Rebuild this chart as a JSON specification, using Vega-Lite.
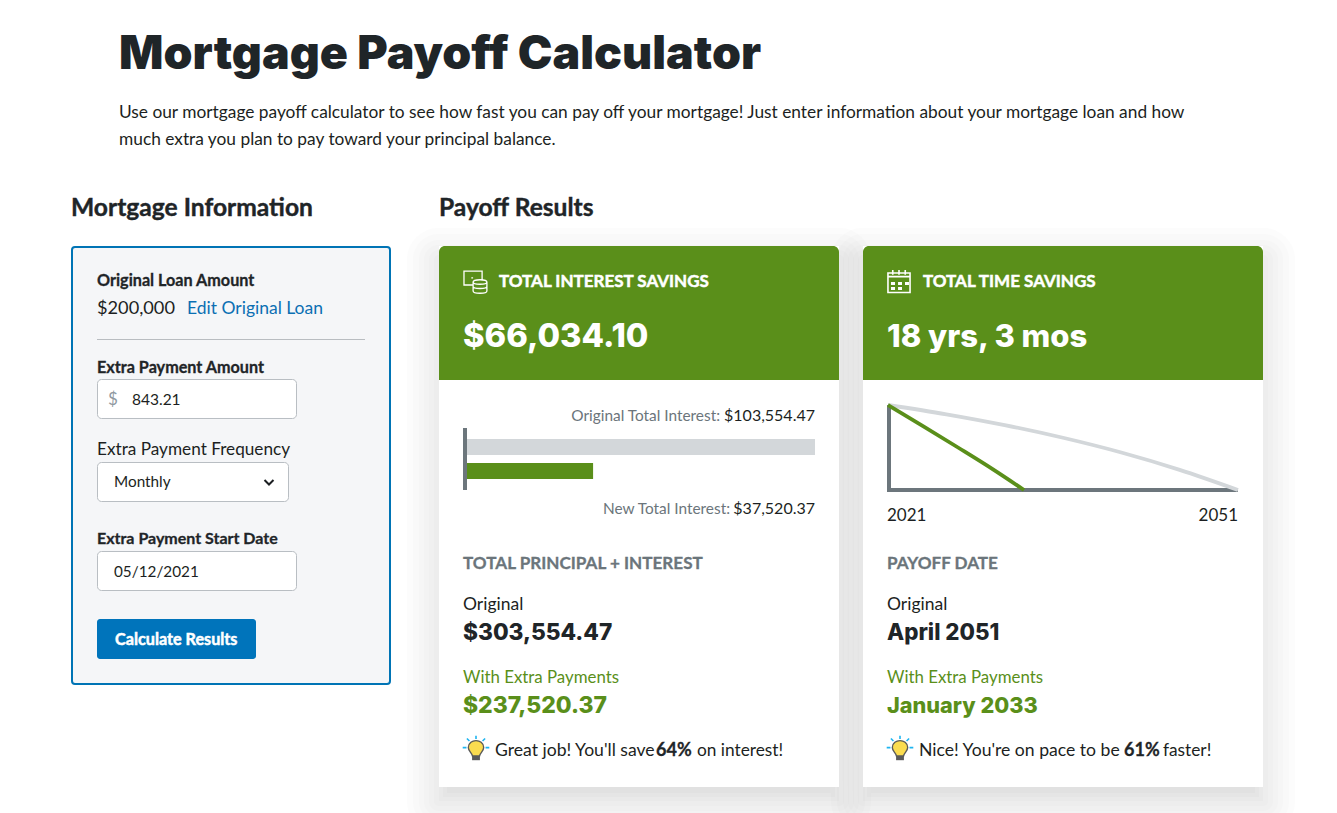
{
"$schema":"https://vega.github.io/schema/vega-lite/v6.json",
"width":1337,"height":813,"padding":0,"autosize":{"type":"none"},"background":"#ffffff",
"config":{"view":{"stroke":null},"text":{"font":"Lato","align":"left","baseline":"alphabetic"}},
"resolve":{"scale":{"x":"independent","y":"independent","color":"independent"}},
"datasets":{
"cards":[{"card":"interest","part":"card"},{"card":"time","part":"card"}],
"payoff":[{"series":"Original","interest":103554.47},{"series":"New","interest":37520.37}],
"balance":[
{"series":"Original","year":2021,"balance":200000},{"series":"Original","year":2026,"balance":178200},{"series":"Original","year":2031,"balance":152700},{"series":"Original","year":2036,"balance":122900},{"series":"Original","year":2041,"balance":88200},{"series":"Original","year":2046,"balance":47400},{"series":"Original","year":2051,"balance":0},
{"series":"With Extra Payments","year":2021,"balance":200000},{"series":"With Extra Payments","year":2024,"balance":150500},{"series":"With Extra Payments","year":2027,"balance":100000},{"series":"With Extra Payments","year":2030,"balance":48500},{"series":"With Extra Payments","year":2032.66,"balance":0}]
},
"layer":[
{"data":{"name":"cards"},"mark":{"type":"rect","fill":"#000","stroke":"#000","strokeWidth":64,"strokeJoin":"round","opacity":0.006},"encoding":{"x":{"field":"card","type":"nominal","scale":{"type":"band","domain":["interest","time"],"range":[439,1263],"paddingInner":0.0566,"paddingOuter":0},"axis":null},"y":{"field":"part","type":"nominal","scale":{"type":"band","domain":["card"],"range":[260,801],"padding":0},"axis":null}}},
{"data":{"name":"cards"},"mark":{"type":"rect","fill":"#000","stroke":"#000","strokeWidth":52,"strokeJoin":"round","opacity":0.006},"encoding":{"x":{"field":"card","type":"nominal","scale":{"type":"band","domain":["interest","time"],"range":[439,1263],"paddingInner":0.0566,"paddingOuter":0},"axis":null},"y":{"field":"part","type":"nominal","scale":{"type":"band","domain":["card"],"range":[260,801],"padding":0},"axis":null}}},
{"data":{"name":"cards"},"mark":{"type":"rect","fill":"#000","stroke":"#000","strokeWidth":40,"strokeJoin":"round","opacity":0.006},"encoding":{"x":{"field":"card","type":"nominal","scale":{"type":"band","domain":["interest","time"],"range":[439,1263],"paddingInner":0.0566,"paddingOuter":0},"axis":null},"y":{"field":"part","type":"nominal","scale":{"type":"band","domain":["card"],"range":[260,801],"padding":0},"axis":null}}},
{"data":{"name":"cards"},"mark":{"type":"rect","fill":"#000","stroke":"#000","strokeWidth":30,"strokeJoin":"round","opacity":0.008},"encoding":{"x":{"field":"card","type":"nominal","scale":{"type":"band","domain":["interest","time"],"range":[439,1263],"paddingInner":0.0566,"paddingOuter":0},"axis":null},"y":{"field":"part","type":"nominal","scale":{"type":"band","domain":["card"],"range":[260,801],"padding":0},"axis":null}}},
{"data":{"name":"cards"},"mark":{"type":"rect","fill":"#000","stroke":"#000","strokeWidth":20,"strokeJoin":"round","opacity":0.008},"encoding":{"x":{"field":"card","type":"nominal","scale":{"type":"band","domain":["interest","time"],"range":[439,1263],"paddingInner":0.0566,"paddingOuter":0},"axis":null},"y":{"field":"part","type":"nominal","scale":{"type":"band","domain":["card"],"range":[260,801],"padding":0},"axis":null}}},
{"data":{"name":"cards"},"mark":{"type":"rect","fill":"#000","stroke":"#000","strokeWidth":10,"strokeJoin":"round","opacity":0.008},"encoding":{"x":{"field":"card","type":"nominal","scale":{"type":"band","domain":["interest","time"],"range":[439,1263],"paddingInner":0.0566,"paddingOuter":0},"axis":null},"y":{"field":"part","type":"nominal","scale":{"type":"band","domain":["card"],"range":[260,801],"padding":0},"axis":null}}},
{"data":{"name":"cards"},"mark":{"type":"rect","fill":"#000","opacity":0.017},"encoding":{"x":{"field":"card","type":"nominal","scale":{"type":"band","domain":["interest","time"],"range":[439,1263],"paddingInner":0.0566,"paddingOuter":0},"axis":null},"y":{"field":"part","type":"nominal","scale":{"type":"band","domain":["card"],"range":[260,801],"padding":0},"axis":null}}},
{"data":{"name":"cards"},"mark":{"type":"rect","fill":"#000","opacity":0.017},"encoding":{"x":{"field":"card","type":"nominal","scale":{"type":"band","domain":["interest","time"],"range":[443,1259],"paddingInner":0.07547,"paddingOuter":0},"axis":null},"y":{"field":"part","type":"nominal","scale":{"type":"band","domain":["card"],"range":[264,797],"padding":0},"axis":null}}},
{"data":{"name":"cards"},"mark":{"type":"rect","fill":"#000","opacity":0.017},"encoding":{"x":{"field":"card","type":"nominal","scale":{"type":"band","domain":["interest","time"],"range":[447,1255],"paddingInner":0.09434,"paddingOuter":0},"axis":null},"y":{"field":"part","type":"nominal","scale":{"type":"band","domain":["card"],"range":[268,793],"padding":0},"axis":null}}},
{"data":{"name":"cards"},"mark":{"type":"rect","fill":"#ffffff"},"encoding":{"x":{"field":"card","type":"nominal","scale":{"type":"band","domain":["interest","time"],"range":[439,1263],"paddingInner":0.0566,"paddingOuter":0},"axis":null},"y":{"field":"part","type":"nominal","scale":{"type":"band","domain":["card"],"range":[246,787],"padding":0},"axis":null}}},
{"data":{"name":"cards"},"mark":{"type":"rect","fill":"#5a8f1a","cornerRadiusTopLeft":6,"cornerRadiusTopRight":6},"encoding":{"x":{"field":"card","type":"nominal","scale":{"type":"band","domain":["interest","time"],"range":[439,1263],"paddingInner":0.0566,"paddingOuter":0},"axis":null},"y":{"field":"part","type":"nominal","scale":{"type":"band","domain":["card"],"range":[246,380],"padding":0},"axis":null}}},

{"data":{"values":[{"panel":"form","part":"panel"}]},"mark":{"type":"rect","fill":"#f5f6f8","stroke":"#0074b5","strokeWidth":2,"cornerRadius":3},"encoding":{"x":{"field":"panel","type":"nominal","scale":{"type":"band","domain":["form"],"range":[72,390],"padding":0},"axis":null},"y":{"field":"part","type":"nominal","scale":{"type":"band","domain":["panel"],"range":[247,684],"padding":0},"axis":null}}},
{"data":{"values":[{"panel":"form","part":"divider"}]},"mark":{"type":"rect","fill":"#b9bdc1"},"encoding":{"x":{"field":"panel","type":"nominal","scale":{"type":"band","domain":["form"],"range":[97,365],"padding":0},"axis":null},"y":{"field":"part","type":"nominal","scale":{"type":"band","domain":["divider"],"range":[339,340],"padding":0},"axis":null}}},
{"data":{"values":[{"panel":"form","part":"amount"},{"panel":"form","part":"date"}]},"mark":{"type":"rect","fill":"#ffffff","stroke":"#b9bec3","strokeWidth":1,"cornerRadius":4},"encoding":{"x":{"field":"panel","type":"nominal","scale":{"type":"band","domain":["form"],"range":[97.5,296.5],"padding":0},"axis":null},"y":{"field":"part","type":"nominal","scale":{"type":"band","domain":["amount","date"],"range":[379.5,590.5],"paddingInner":0.77326,"paddingOuter":0},"axis":null}}},
{"data":{"values":[{"panel":"form","part":"frequency"}]},"mark":{"type":"rect","fill":"#ffffff","stroke":"#b9bec3","strokeWidth":1,"cornerRadius":4},"encoding":{"x":{"field":"panel","type":"nominal","scale":{"type":"band","domain":["form"],"range":[97.5,288.5],"padding":0},"axis":null},"y":{"field":"part","type":"nominal","scale":{"type":"band","domain":["frequency"],"range":[462.5,501.5],"padding":0},"axis":null}}},
{"data":{"values":[{"panel":"form","part":"button"}]},"mark":{"type":"rect","fill":"#0074bb","cornerRadius":3},"encoding":{"x":{"field":"panel","type":"nominal","scale":{"type":"band","domain":["form"],"range":[97,256],"padding":0},"axis":null},"y":{"field":"part","type":"nominal","scale":{"type":"band","domain":["button"],"range":[619,659],"padding":0},"axis":null}}},
{"data":{"values":[{"panel":"form","part":"frequency"}]},"mark":{"type":"point","shape":"M-1,-.45L0,.55L1,-.45","size":81,"filled":false,"stroke":"#1c1f22","strokeWidth":2,"opacity":1},"encoding":{"x":{"field":"panel","type":"nominal","scale":{"type":"point","domain":["form"],"range":[269,269],"padding":0},"axis":null},"y":{"field":"part","type":"nominal","scale":{"type":"point","domain":["frequency"],"range":[482,482],"padding":0},"axis":null}}},

{"data":{"values":[{"column":"page","line":"title","label":"Mortgage Payoff Calculator"}]},"mark":{"type":"text","font":"Inter","fontSize":46.5,"fontWeight":900,"color":"#1f2528"},"encoding":{"text":{"field":"label"},"x":{"field":"column","type":"nominal","scale":{"type":"point","domain":["page"],"range":[119,119],"padding":0},"axis":null},"y":{"field":"line","type":"nominal","scale":{"type":"point","domain":["title"],"range":[69,69],"padding":0},"axis":null}}},
{"data":{"values":[{"column":"page","line":"first","label":"Use our mortgage payoff calculator to see how fast you can pay off your mortgage! Just enter information about your mortgage loan and how"},{"column":"page","line":"second","label":"much extra you plan to pay toward your principal balance."}]},"mark":{"type":"text","fontSize":17.32,"color":"#1c1f22"},"encoding":{"text":{"field":"label"},"x":{"field":"column","type":"nominal","scale":{"type":"point","domain":["page"],"range":[119,119],"padding":0},"axis":null},"y":{"field":"line","type":"nominal","scale":{"type":"point","domain":["first","second"],"range":[118,145],"padding":0},"axis":null}}},
{"data":{"values":[{"column":"form","line":"heading","label":"Mortgage Information"},{"column":"results","line":"heading","label":"Payoff Results"}]},"mark":{"type":"text","fontSize":24.6,"fontWeight":700,"color":"#1f2528","stroke":"#1f2528","strokeWidth":0.4},"encoding":{"text":{"field":"label"},"x":{"field":"column","type":"nominal","scale":{"type":"point","domain":["form","results"],"range":[71,439],"padding":0},"axis":null},"y":{"field":"line","type":"nominal","scale":{"type":"point","domain":["heading"],"range":[216,216],"padding":0},"axis":null}}},

{"data":{"values":[{"column":"form","line":"loan","label":"Original Loan Amount"},{"column":"form","line":"extra","label":"Extra Payment Amount"}]},"mark":{"type":"text","fontSize":16.2,"fontWeight":700,"color":"#1f2528","stroke":"#1f2528","strokeWidth":0.3},"encoding":{"text":{"field":"label"},"x":{"field":"column","type":"nominal","scale":{"type":"point","domain":["form"],"range":[97,97],"padding":0},"axis":null},"y":{"field":"line","type":"nominal","scale":{"type":"point","domain":["loan","extra"],"range":[286,373],"padding":0},"axis":null}}},
{"data":{"values":[{"column":"form","line":"start","label":"Extra Payment Start Date"}]},"mark":{"type":"text","fontSize":16,"fontWeight":700,"color":"#1f2528","stroke":"#1f2528","strokeWidth":0.3},"encoding":{"text":{"field":"label"},"x":{"field":"column","type":"nominal","scale":{"type":"point","domain":["form"],"range":[97,97],"padding":0},"axis":null},"y":{"field":"line","type":"nominal","scale":{"type":"point","domain":["start"],"range":[544,544],"padding":0},"axis":null}}},
{"data":{"values":[{"column":"amount","line":"loan","label":"$200,000"}]},"mark":{"type":"text","fontSize":18.2,"color":"#1c1f22"},"encoding":{"text":{"field":"label"},"x":{"field":"column","type":"nominal","scale":{"type":"point","domain":["amount"],"range":[97,97],"padding":0},"axis":null},"y":{"field":"line","type":"nominal","scale":{"type":"point","domain":["loan"],"range":[314,314],"padding":0},"axis":null}}},
{"data":{"values":[{"column":"link","line":"loan","label":"Edit Original Loan"}]},"mark":{"type":"text","fontSize":17.5,"color":"#0b6fb3"},"encoding":{"text":{"field":"label"},"x":{"field":"column","type":"nominal","scale":{"type":"point","domain":["link"],"range":[187,187],"padding":0},"axis":null},"y":{"field":"line","type":"nominal","scale":{"type":"point","domain":["loan"],"range":[314,314],"padding":0},"axis":null}}},
{"data":{"values":[{"column":"prefix","line":"amount","label":"$"}]},"mark":{"type":"text","fontSize":17,"color":"#8f999f"},"encoding":{"text":{"field":"label"},"x":{"field":"column","type":"nominal","scale":{"type":"point","domain":["prefix"],"range":[108,108],"padding":0},"axis":null},"y":{"field":"line","type":"nominal","scale":{"type":"point","domain":["amount"],"range":[405,405],"padding":0},"axis":null}}},
{"data":{"values":[{"column":"value","line":"amount","label":"843.21"}]},"mark":{"type":"text","fontSize":15.5,"color":"#1c1f22"},"encoding":{"text":{"field":"label"},"x":{"field":"column","type":"nominal","scale":{"type":"point","domain":["value"],"range":[132,132],"padding":0},"axis":null},"y":{"field":"line","type":"nominal","scale":{"type":"point","domain":["amount"],"range":[405,405],"padding":0},"axis":null}}},
{"data":{"values":[{"column":"form","line":"frequency","label":"Extra Payment Frequency"}]},"mark":{"type":"text","fontSize":17.2,"color":"#1c1f22"},"encoding":{"text":{"field":"label"},"x":{"field":"column","type":"nominal","scale":{"type":"point","domain":["form"],"range":[97,97],"padding":0},"axis":null},"y":{"field":"line","type":"nominal","scale":{"type":"point","domain":["frequency"],"range":[455,455],"padding":0},"axis":null}}},
{"data":{"values":[{"column":"value","line":"monthly","label":"Monthly"},{"column":"value","line":"date","label":"05/12/2021"}]},"mark":{"type":"text","fontSize":15.3,"color":"#1c1f22"},"encoding":{"text":{"field":"label"},"x":{"field":"column","type":"nominal","scale":{"type":"point","domain":["value"],"range":[114,114],"padding":0},"axis":null},"y":{"field":"line","type":"nominal","scale":{"type":"point","domain":["monthly","date"],"range":[487,577],"padding":0},"axis":null}}},
{"data":{"values":[{"column":"button","line":"button","label":"Calculate Results"}]},"mark":{"type":"text","fontSize":16.2,"fontWeight":700,"color":"#ffffff","stroke":"#ffffff","strokeWidth":0.5},"encoding":{"text":{"field":"label"},"x":{"field":"column","type":"nominal","scale":{"type":"point","domain":["button"],"range":[115,115],"padding":0},"axis":null},"y":{"field":"line","type":"nominal","scale":{"type":"point","domain":["button"],"range":[645,645],"padding":0},"axis":null}}},

{"data":{"values":[{"card":"interest","line":"header"}]},"mark":{"type":"point","shape":"M-.2,.25H-.96V-.9H.55V-.1M-.35,-.35L-.2,-.35M-.2,0C-.2,-.25 .95,-.25 .95,0C.95,.25 -.2,.25 -.2,0ZM-.2,0V.75C-.2,1 .95,1 .95,.75V0M-.2,.37C-.2,.6 .95,.6 .95,.37","size":576,"filled":false,"stroke":"#ffffff","strokeWidth":1.3,"opacity":1},"encoding":{"x":{"field":"card","type":"nominal","scale":{"type":"point","domain":["interest"],"range":[475.5,475.5],"padding":0},"axis":null},"y":{"field":"line","type":"nominal","scale":{"type":"point","domain":["header"],"range":[282,282],"padding":0},"axis":null}}},
{"data":{"values":[{"card":"time","line":"header"}]},"mark":{"type":"point","shape":"M-.92,-.75H.92V.87H-.92ZM-.92,-.45H.92M-.52,-1V-.6M0,-1V-.6M.52,-1V-.6","size":576,"filled":false,"stroke":"#ffffff","strokeWidth":1.6,"opacity":1},"encoding":{"x":{"field":"card","type":"nominal","scale":{"type":"point","domain":["time"],"range":[899,899],"padding":0},"axis":null},"y":{"field":"line","type":"nominal","scale":{"type":"point","domain":["header"],"range":[282,282],"padding":0},"axis":null}}},
{"data":{"values":[{"card":"time","line":"header"}]},"mark":{"type":"point","shape":"M-.67,0H-.33V.25H-.67ZM-.08,0H.25V.25H-.08ZM.5,0H.83V.25H.5ZM-.67,.42H-.33V.67H-.67ZM-.08,.42H.25V.67H-.08Z","size":576,"filled":true,"fill":"#ffffff","opacity":1},"encoding":{"x":{"field":"card","type":"nominal","scale":{"type":"point","domain":["time"],"range":[899,899],"padding":0},"axis":null},"y":{"field":"line","type":"nominal","scale":{"type":"point","domain":["header"],"range":[282,282],"padding":0},"axis":null}}},
{"data":{"values":[{"card":"interest","line":"header","label":"TOTAL INTEREST SAVINGS"},{"card":"time","line":"header","label":"TOTAL TIME SAVINGS"}]},"mark":{"type":"text","fontSize":17,"fontWeight":700,"color":"#ffffff","stroke":"#ffffff","strokeWidth":0.5},"encoding":{"text":{"field":"label"},"x":{"field":"card","type":"nominal","scale":{"type":"point","domain":["interest","time"],"range":[499,923],"padding":0},"axis":null},"y":{"field":"line","type":"nominal","scale":{"type":"point","domain":["header"],"range":[287,287],"padding":0},"axis":null}}},
{"data":{"values":[{"card":"interest","line":"saving","label":"$66,034.10"}]},"mark":{"type":"text","font":"Inter","fontSize":32.7,"fontWeight":800,"color":"#ffffff"},"encoding":{"text":{"field":"label"},"x":{"field":"card","type":"nominal","scale":{"type":"point","domain":["interest"],"range":[463,463],"padding":0},"axis":null},"y":{"field":"line","type":"nominal","scale":{"type":"point","domain":["saving"],"range":[347,347],"padding":0},"axis":null}}},
{"data":{"values":[{"card":"time","line":"saving","label":"18 yrs, 3 mos"}]},"mark":{"type":"text","font":"Inter","fontSize":31,"fontWeight":800,"color":"#ffffff"},"encoding":{"text":{"field":"label"},"x":{"field":"card","type":"nominal","scale":{"type":"point","domain":["time"],"range":[887,887],"padding":0},"axis":null},"y":{"field":"line","type":"nominal","scale":{"type":"point","domain":["saving"],"range":[347,347],"padding":0},"axis":null}}},

{"data":{"values":[{"chart":"axis","part":"axis"}]},"mark":{"type":"rect","fill":"#6c767c"},"encoding":{"x":{"field":"chart","type":"nominal","scale":{"type":"band","domain":["axis"],"range":[463,467],"padding":0},"axis":null},"y":{"field":"part","type":"nominal","scale":{"type":"band","domain":["axis"],"range":[428,490],"padding":0},"axis":null}}},
{"data":{"name":"payoff"},"mark":{"type":"bar"},"encoding":{"x":{"field":"interest","type":"quantitative","scale":{"domain":[0,103554.47],"range":[467,815],"nice":false},"axis":null},"y":{"field":"series","type":"nominal","scale":{"type":"band","domain":["Original","New"],"range":[439,479],"paddingInner":0.3333,"paddingOuter":0},"axis":null},"color":{"field":"series","type":"nominal","scale":{"domain":["Original","New"],"range":["#d3d7da","#5a8f1a"]},"legend":null}}},
{"data":{"values":[{"series":"Original","label":"Original Total Interest:","line":"top"}]},"mark":{"type":"text","align":"right","fontSize":15.4,"color":"#6b757b"},"encoding":{"text":{"field":"label"},"x":{"field":"series","type":"nominal","scale":{"type":"point","domain":["Original"],"range":[720,720],"padding":0},"axis":null},"y":{"field":"line","type":"nominal","scale":{"type":"point","domain":["top"],"range":[421,421],"padding":0},"axis":null}}},
{"data":{"values":[{"series":"New","label":"New Total Interest:","line":"bottom"}]},"mark":{"type":"text","align":"right","fontSize":15.4,"color":"#6b757b"},"encoding":{"text":{"field":"label"},"x":{"field":"series","type":"nominal","scale":{"type":"point","domain":["New"],"range":[730,730],"padding":0},"axis":null},"y":{"field":"line","type":"nominal","scale":{"type":"point","domain":["bottom"],"range":[514,514],"padding":0},"axis":null}}},
{"data":{"values":[{"series":"Original","label":"$103,554.47","line":"top"},{"series":"New","label":"$37,520.37","line":"bottom"}]},"mark":{"type":"text","align":"right","fontSize":16,"color":"#1c1f22"},"encoding":{"text":{"field":"label"},"x":{"field":"series","type":"nominal","scale":{"type":"point","domain":["Original","New"],"range":[815,815],"padding":0},"axis":null},"y":{"field":"line","type":"nominal","scale":{"type":"point","domain":["top","bottom"],"range":[421,514],"padding":0},"axis":null}}},

{"data":{"values":[{"chart":"axis","part":"axis"}]},"mark":{"type":"rect","fill":"#6c767c"},"encoding":{"x":{"field":"chart","type":"nominal","scale":{"type":"band","domain":["axis"],"range":[887,891],"padding":0},"axis":null},"y":{"field":"part","type":"nominal","scale":{"type":"band","domain":["axis"],"range":[405,492],"padding":0},"axis":null}}},
{"data":{"values":[{"chart":"axis","part":"axis"}]},"mark":{"type":"rect","fill":"#6c767c"},"encoding":{"x":{"field":"chart","type":"nominal","scale":{"type":"band","domain":["axis"],"range":[887,1238],"padding":0},"axis":null},"y":{"field":"part","type":"nominal","scale":{"type":"band","domain":["axis"],"range":[488,492],"padding":0},"axis":null}}},
{"data":{"name":"balance"},"mark":{"type":"line","interpolate":"monotone","strokeWidth":3.8},"encoding":{"x":{"field":"year","type":"quantitative","scale":{"domain":[2021,2051],"range":[888,1238],"nice":false,"zero":false},"axis":null},"y":{"field":"balance","type":"quantitative","scale":{"domain":[0,200000],"range":[490,405],"nice":false},"axis":null},"color":{"field":"series","type":"nominal","scale":{"domain":["Original","With Extra Payments"],"range":["#d3d7da","#5a8f1a"]},"legend":null}}},
{"data":{"values":[{"end":"start","line":"years","label":"2021"}]},"mark":{"type":"text","fontSize":17,"color":"#1c1f22"},"encoding":{"text":{"field":"label"},"x":{"field":"end","type":"nominal","scale":{"type":"point","domain":["start"],"range":[887,887],"padding":0},"axis":null},"y":{"field":"line","type":"nominal","scale":{"type":"point","domain":["years"],"range":[521,521],"padding":0},"axis":null}}},
{"data":{"values":[{"end":"end","line":"years","label":"2051"}]},"mark":{"type":"text","align":"right","fontSize":17,"color":"#1c1f22"},"encoding":{"text":{"field":"label"},"x":{"field":"end","type":"nominal","scale":{"type":"point","domain":["end"],"range":[1238,1238],"padding":0},"axis":null},"y":{"field":"line","type":"nominal","scale":{"type":"point","domain":["years"],"range":[521,521],"padding":0},"axis":null}}},

{"data":{"values":[{"card":"interest","line":"section","label":"TOTAL PRINCIPAL + INTEREST"},{"card":"time","line":"section","label":"PAYOFF DATE"}]},"mark":{"type":"text","fontSize":17.1,"fontWeight":700,"color":"#6b757b","stroke":"#6b757b","strokeWidth":0.3},"encoding":{"text":{"field":"label"},"x":{"field":"card","type":"nominal","scale":{"type":"point","domain":["interest","time"],"range":[463,887],"padding":0},"axis":null},"y":{"field":"line","type":"nominal","scale":{"type":"point","domain":["section"],"range":[569,569],"padding":0},"axis":null}}},
{"data":{"values":[{"card":"interest","line":"original","label":"Original"},{"card":"time","line":"original","label":"Original"}]},"mark":{"type":"text","fontSize":17.5,"color":"#1c1f22"},"encoding":{"text":{"field":"label"},"x":{"field":"card","type":"nominal","scale":{"type":"point","domain":["interest","time"],"range":[463,887],"padding":0},"axis":null},"y":{"field":"line","type":"nominal","scale":{"type":"point","domain":["original"],"range":[610,610],"padding":0},"axis":null}}},
{"data":{"values":[{"card":"interest","line":"original","label":"$303,554.47"}]},"mark":{"type":"text","font":"Inter","fontSize":22.7,"fontWeight":800,"color":"#1f2528"},"encoding":{"text":{"field":"label"},"x":{"field":"card","type":"nominal","scale":{"type":"point","domain":["interest"],"range":[463,463],"padding":0},"axis":null},"y":{"field":"line","type":"nominal","scale":{"type":"point","domain":["original"],"range":[640,640],"padding":0},"axis":null}}},
{"data":{"values":[{"card":"time","line":"original","label":"April 2051"}]},"mark":{"type":"text","font":"Inter","fontSize":22.3,"fontWeight":800,"color":"#1f2528"},"encoding":{"text":{"field":"label"},"x":{"field":"card","type":"nominal","scale":{"type":"point","domain":["time"],"range":[887,887],"padding":0},"axis":null},"y":{"field":"line","type":"nominal","scale":{"type":"point","domain":["original"],"range":[640,640],"padding":0},"axis":null}}},
{"data":{"values":[{"card":"interest","line":"extra","label":"With Extra Payments"},{"card":"time","line":"extra","label":"With Extra Payments"}]},"mark":{"type":"text","fontSize":16.85,"color":"#5a8f1a"},"encoding":{"text":{"field":"label"},"x":{"field":"card","type":"nominal","scale":{"type":"point","domain":["interest","time"],"range":[463,887],"padding":0},"axis":null},"y":{"field":"line","type":"nominal","scale":{"type":"point","domain":["extra"],"range":[683,683],"padding":0},"axis":null}}},
{"data":{"values":[{"card":"interest","line":"extra","label":"$237,520.37"}]},"mark":{"type":"text","font":"Inter","fontSize":22.9,"fontWeight":800,"color":"#5a8f1a"},"encoding":{"text":{"field":"label"},"x":{"field":"card","type":"nominal","scale":{"type":"point","domain":["interest"],"range":[463,463],"padding":0},"axis":null},"y":{"field":"line","type":"nominal","scale":{"type":"point","domain":["extra"],"range":[713,713],"padding":0},"axis":null}}},
{"data":{"values":[{"card":"time","line":"extra","label":"January 2033"}]},"mark":{"type":"text","font":"Inter","fontSize":21.7,"fontWeight":800,"color":"#5a8f1a"},"encoding":{"text":{"field":"label"},"x":{"field":"card","type":"nominal","scale":{"type":"point","domain":["time"],"range":[887,887],"padding":0},"axis":null},"y":{"field":"line","type":"nominal","scale":{"type":"point","domain":["extra"],"range":[713,713],"padding":0},"axis":null}}},

{"data":{"name":"cards"},"mark":{"type":"point","shape":"M-.25,.5C-.3,.25 -.55,.15 -.55,-.1C-.55,-.45 -.25,-.6 0,-.6C.25,-.6 .55,-.45 .55,-.1C.55,.15 .3,.25 .25,.5Z","size":784,"filled":true,"fill":"#fbdc4f","stroke":"#5a5a5a","strokeWidth":1.4,"opacity":1},"encoding":{"x":{"field":"card","type":"nominal","scale":{"type":"point","domain":["interest","time"],"range":[476,900],"padding":0},"axis":null},"y":{"field":"part","type":"nominal","scale":{"type":"point","domain":["card"],"range":[749,749],"padding":0},"axis":null}}},
{"data":{"name":"cards"},"mark":{"type":"point","shape":"M-.28,.5H.28V.8H-.28Z","size":784,"filled":true,"fill":"#5a5a5a","opacity":1},"encoding":{"x":{"field":"card","type":"nominal","scale":{"type":"point","domain":["interest","time"],"range":[476,900],"padding":0},"axis":null},"y":{"field":"part","type":"nominal","scale":{"type":"point","domain":["card"],"range":[749,749],"padding":0},"axis":null}}},
{"data":{"name":"cards"},"mark":{"type":"point","shape":"M-.95,-.1H-.68M.68,-.1H.95M0,-.95V-.72M-.65,-.75L-.47,-.57M.65,-.75L.47,-.57","size":784,"filled":false,"stroke":"#1fb5f0","strokeWidth":1.6,"opacity":1},"encoding":{"x":{"field":"card","type":"nominal","scale":{"type":"point","domain":["interest","time"],"range":[476,900],"padding":0},"axis":null},"y":{"field":"part","type":"nominal","scale":{"type":"point","domain":["card"],"range":[749,749],"padding":0},"axis":null}}},
{"data":{"values":[{"card":"interest","line":"tip","label":"Great job! You'll save"},{"card":"time","line":"tip","label":"Nice! You're on pace to be"}]},"mark":{"type":"text","fontSize":17.6,"color":"#1c1f22"},"encoding":{"text":{"field":"label"},"x":{"field":"card","type":"nominal","scale":{"type":"point","domain":["interest","time"],"range":[495,919],"padding":0},"axis":null},"y":{"field":"line","type":"nominal","scale":{"type":"point","domain":["tip"],"range":[756,756],"padding":0},"axis":null}}},
{"data":{"values":[{"card":"interest","line":"tip","label":"64%"},{"card":"time","line":"tip","label":"61%"}]},"mark":{"type":"text","fontSize":18,"fontWeight":700,"color":"#1f2528","stroke":"#1f2528","strokeWidth":0.3},"encoding":{"text":{"field":"label"},"x":{"field":"card","type":"nominal","scale":{"type":"point","domain":["interest","time"],"range":[656,1124],"padding":0},"axis":null},"y":{"field":"line","type":"nominal","scale":{"type":"point","domain":["tip"],"range":[756,756],"padding":0},"axis":null}}},
{"data":{"values":[{"card":"interest","line":"tip","label":"on interest!"},{"card":"time","line":"tip","label":"faster!"}]},"mark":{"type":"text","fontSize":17.3,"color":"#1c1f22"},"encoding":{"text":{"field":"label"},"x":{"field":"card","type":"nominal","scale":{"type":"point","domain":["interest","time"],"range":[697,1163],"padding":0},"axis":null},"y":{"field":"line","type":"nominal","scale":{"type":"point","domain":["tip"],"range":[756,756],"padding":0},"axis":null}}}
]
}
